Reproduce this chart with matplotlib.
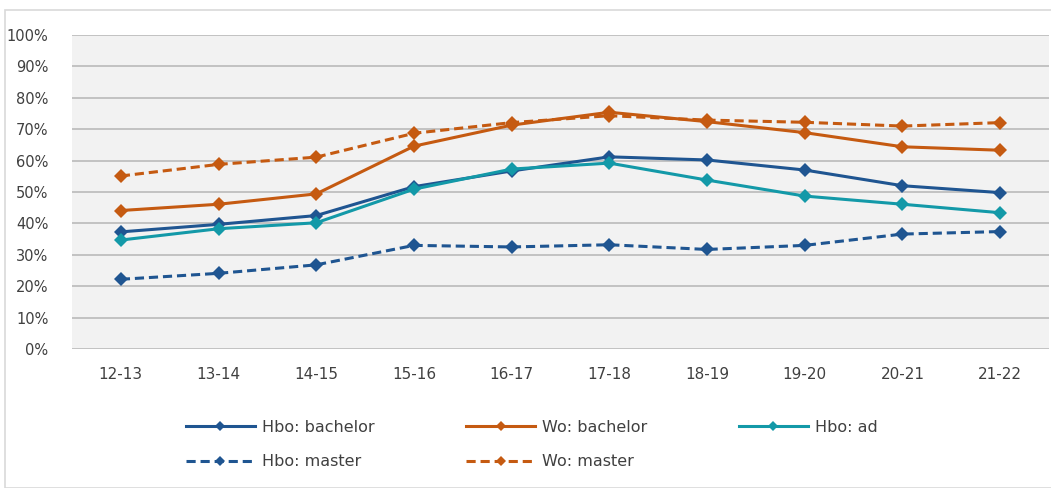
import matplotlib
matplotlib.use("Agg")
import matplotlib.pyplot as plt
from matplotlib.patches import Rectangle

years = ["12-13", "13-14", "14-15", "15-16", "16-17", "17-18", "18-19", "19-20", "20-21", "21-22"]
hbo_bachelor = [37.3, 39.7, 42.5, 51.7, 56.7, 61.2, 60.2, 57.0, 52.0, 49.8]
wo_bachelor = [44.1, 46.1, 49.4, 64.6, 71.3, 75.4, 72.4, 68.9, 64.4, 63.3]
hbo_ad = [34.7, 38.3, 40.2, 50.9, 57.3, 59.2, 53.8, 48.7, 46.1, 43.4]
hbo_master = [22.2, 24.1, 26.8, 33.0, 32.5, 33.2, 31.7, 33.0, 36.6, 37.4]
wo_master = [55.1, 58.8, 61.1, 68.7, 72.1, 74.3, 72.9, 72.2, 71.0, 72.1]
yticks = [0, 10, 20, 30, 40, 50, 60, 70, 80, 90, 100]

BLUE = "#1F5591"
ORANGE = "#C55A11"
TEAL = "#1399A8"
TXT = "#404040"

plt.rcParams['font.family'] = ['DejaVu Sans']
fig = plt.figure(figsize=(10.51, 4.88), dpi=100)
W, H = 1051, 488
fig.patches.append(Rectangle((5 / W, 0), 1.2, 1 - 10 / H, transform=fig.transFigure,
                             fill=False, edgecolor="#D9D9D9", lw=1.2, clip_on=False))

ax = fig.add_axes([72 / W, 1 - 349 / H, (1049 - 72) / W, (349 - 35) / H])
ax.set_facecolor("#F2F2F2")
x = list(range(len(years)))
dash = (0, (3, 1.6))
series = [
    ("Hbo: bachelor", hbo_bachelor, BLUE, "-"),
    ("Wo: bachelor", wo_bachelor, ORANGE, "-"),
    ("Hbo: ad", hbo_ad, TEAL, "-"),
    ("Hbo: master", hbo_master, BLUE, dash),
    ("Wo: master", wo_master, ORANGE, dash),
]
for name, vals, col, ls in series:
    ax.plot(x, vals, color=col, lw=2.2, linestyle=ls, marker="D", markersize=7.5,
            markeredgewidth=0, label=name, zorder=3)

ax.set_xlim(-0.5, len(years) - 0.5)
ax.set_ylim(0, 100)
ax.set_yticks(yticks)
ax.set_yticklabels([f"{v}%" for v in yticks])
ax.set_xticks(x)
ax.set_xticklabels(years)
ax.tick_params(axis="both", length=0, colors=TXT, labelsize=11)
ax.tick_params(axis="y", labelsize=10.5, pad=17)
ax.tick_params(axis="x", pad=13)
ax.grid(axis="y", color="#BFBFBF", lw=1.3)
ax.set_axisbelow(True)
for s in ax.spines.values():
    s.set_visible(False)

# column-major fill so rows read: bachelor/bachelor/ad, master/master
order = [0, 3, 1, 4, 2]
leg_handles = []
for i in order:
    name, vals, col, ls = series[i]
    leg_handles.append(plt.Line2D([], [], color=col, lw=2.2, linestyle=ls, marker="D",
                                  markersize=5, markeredgewidth=0, label=name))
leg = fig.legend(handles=leg_handles, ncol=3, loc="upper left",
                 bbox_to_anchor=(186 / W, 1 - 420 / H), frameon=False,
                 handlelength=4.3, handletextpad=0.44, columnspacing=5.75,
                 labelspacing=1.22, fontsize=11.5, borderpad=0, borderaxespad=0)
for t in leg.get_texts():
    t.set_color(TXT)

fig.savefig("out.png", dpi=100)
